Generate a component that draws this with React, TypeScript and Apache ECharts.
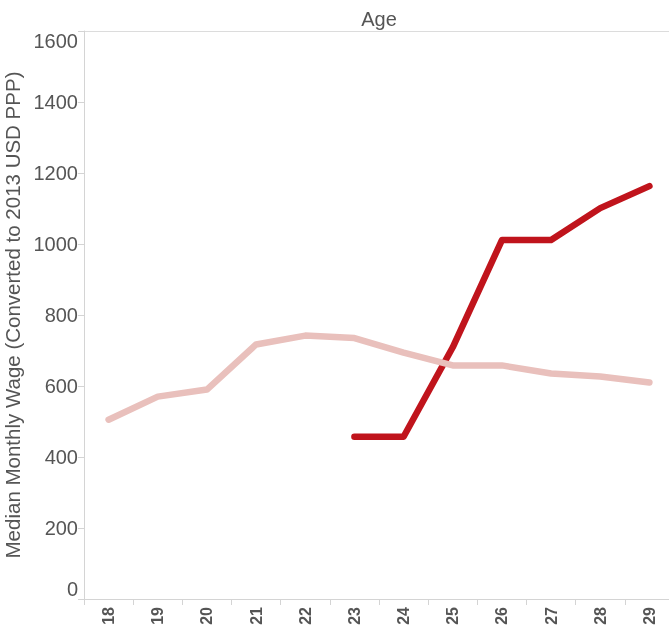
import React, { useEffect, useRef } from "react";
import * as echarts from "echarts";

const ages = ["18", "19", "20", "21", "22", "23", "24", "25", "26", "27", "28", "29"];
const wageLight = [505, 570, 590, 717, 742, 735, 694, 658, 658, 635, 627, 610];
const wageDark = [null, null, null, null, null, 457, 457, 709, 1011, 1011, 1101, 1163];
const yTicks = { min: 0, max: 1600, interval: 200 };
const titleText = "Age";
const yName = "Median Monthly Wage (Converted to 2013 USD PPP)";

export default function App() {
  const ref = useRef<HTMLDivElement>(null);
  useEffect(() => {
    if (!ref.current) return;
    const chart = echarts.init(ref.current, null, { renderer: "svg" });
    const font = "Arial, 'Liberation Sans', sans-serif";
    chart.setOption({
      animation: false,
      textStyle: { fontFamily: font },
      grid: {
        left: 84,
        top: 31,
        width: 590,
        bottom: 27,
        containLabel: false,
        outerBoundsMode: "none",
      },
      graphic: [
        {
          type: "text",
          x: 379,
          y: 19,
          style: {
            text: titleText,
            fill: "#555555",
            fontSize: 20,
            fontFamily: font,
            align: "center",
            verticalAlign: "middle",
          },
        },
        {
          type: "line",
          shape: { x1: 84, y1: 31.5, x2: 669, y2: 31.5 },
          style: { stroke: "#dcdcdc", lineWidth: 1 },
        },
      ],
      xAxis: {
        type: "category",
        data: ages,
        boundaryGap: true,
        axisLine: { show: true, lineStyle: { color: "#d4d4d4", width: 1 } },
        axisTick: { show: true, length: 6, lineStyle: { color: "#d4d4d4" } },
        axisLabel: {
          rotate: 90,
          margin: 8,
          color: "#555555",
          fontSize: 16,
          fontWeight: "bold",
          fontFamily: font,
        },
        splitLine: { show: false },
      },
      yAxis: {
        type: "value",
        min: yTicks.min,
        max: yTicks.max,
        interval: yTicks.interval,
        name: yName,
        nameLocation: "middle",
        nameGap: 56,
        nameTextStyle: { color: "#555555", fontSize: 20.5, fontFamily: font },
        axisLine: { show: true, lineStyle: { color: "#d4d4d4", width: 1 } },
        axisTick: { show: true, length: 6, lineStyle: { color: "#d4d4d4" } },
        axisLabel: {
          color: "#555555",
          fontSize: 20,
          margin: 6,
          fontFamily: font,
          formatter: (v: number) => String(v),
          verticalAlignMaxLabel: "top",
          verticalAlignMinLabel: "bottom",
        },
        splitLine: { show: false },
      },
      series: [
        {
          type: "line",
          data: wageDark,
          showSymbol: false,
          symbol: "none",
          lineStyle: { color: "#c0141c", width: 6.5, cap: "round", join: "round" },
          connectNulls: false,
        },
        {
          type: "line",
          data: wageLight,
          showSymbol: false,
          symbol: "none",
          lineStyle: { color: "#e9c0bc", width: 6.5, cap: "round", join: "round" },
        },
      ],
    });
    return () => chart.dispose();
  }, []);
  return (
    <div
      ref={ref}
      style={{ position: "fixed", left: 0, top: 0, width: 669, height: 626 }}
    />
  );
}
